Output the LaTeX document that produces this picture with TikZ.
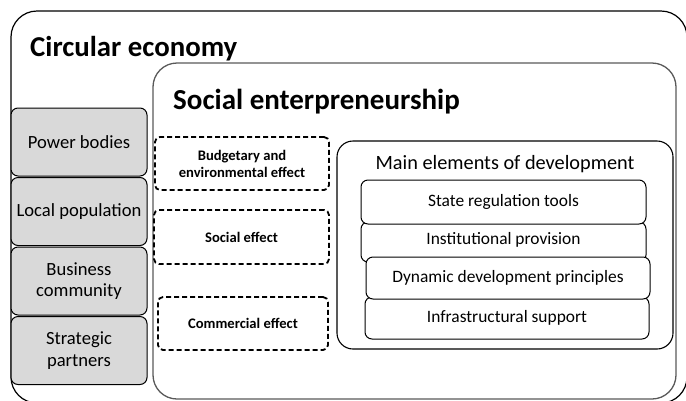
\documentclass[tikz,border=0pt]{standalone}
\usepackage{fontspec}
\setmainfont{Carlito}
\begin{document}
\begin{tikzpicture}[x=1pt,y=-1pt,
  outerbox/.style={draw=black,line width=1.2pt,rounded corners=26pt},
  sebox/.style={draw=black!65,line width=1.3pt,rounded corners=24pt},
  graybox/.style={draw=black,line width=1pt,fill=black!15,rounded corners=7pt,minimum width=136pt,minimum height=68pt,align=center,font=\fontsize{18.6}{21.5}\selectfont},
  dashbox/.style={draw=black,line width=1.8pt,dash pattern=on 5pt off 3pt,rounded corners=5pt,align=center,font=\bfseries\fontsize{14.6}{17}\selectfont},
  mainbox/.style={draw=black,line width=1.1pt,rounded corners=16pt},
  elbox/.style={draw=black,line width=1pt,fill=white,rounded corners=7pt,font=\fontsize{17.4}{20}\selectfont}]
\useasboundingbox (0,0) rectangle (686,400);
\begin{scope}
\clip (0,0) rectangle (686,400);
\draw[outerbox] (11,11) rectangle (687,403);
\draw[sebox] (153,63) rectangle (676,399);
\end{scope}
\node[anchor=base west,font=\bfseries\fontsize{28.8}{32}\selectfont,inner sep=0] (ce) at (30,56) {Circular economy};
\node[anchor=base west,font=\bfseries\fontsize{29}{32}\selectfont,inner sep=0] (se) at (173,109) {Social enterpreneurship};
% gray boxes
\node[graybox] (pb) at (79,142) {Power bodies};
\node[graybox] (lp) at (79,211.5) {Local population};
\node[graybox] (bc) at (79,281) {Business\\community};
\node[graybox] (sp) at (79,350.5) {Strategic\\partners};
% dashed
\node[dashbox,minimum width=174pt,minimum height=53pt] (be) at (242,163.5) {Budgetary and\\environmental effect};
\node[dashbox,minimum width=175pt,minimum height=54pt] (so) at (241.5,237) {Social effect};
\node[dashbox,minimum width=170pt,minimum height=53pt] (co) at (243,323.5) {Commercial effect};
% main elements
\draw[mainbox] (337,141) rectangle (673,349);
\node[font=\fontsize{20.3}{23}\selectfont,inner sep=0] (me) at (505,164) {Main elements of development};
\node[elbox,minimum width=285pt,minimum height=40pt] (ip) at (503.5,242) {};
\node[font=\fontsize{17.4}{20}\selectfont] at (503.5,240) {Institutional provision};
\node[elbox,minimum width=285pt,minimum height=44pt] (sr) at (503.5,202) {State regulation tools};
\node[elbox,minimum width=284pt,minimum height=42pt] (is) at (507,318) {Infrastructural support};
\node[elbox,minimum width=284pt,minimum height=42pt] (dd) at (508,278) {Dynamic development principles};
\end{tikzpicture}
\end{document}
